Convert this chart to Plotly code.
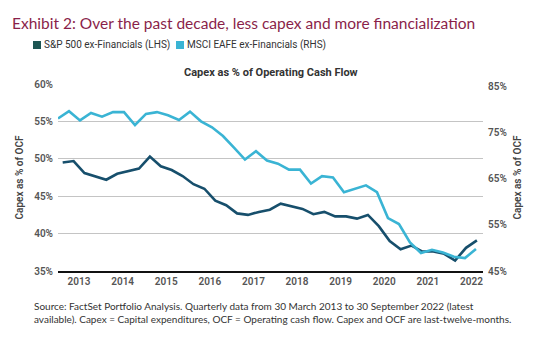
import plotly.graph_objects as go

# Quarterly capex as % of operating cash flow, Q1 2013 .. Q3 2022
quarters = list(range(39))
sp500_ex_fin = [49.5, 49.7, 48.1, 47.6, 47.2, 48.0, 48.3, 48.7, 50.3, 49.0,
                48.5, 47.7, 46.6, 46.0, 44.4, 43.8, 42.7, 42.5, 42.9, 43.2,
                44.0, 43.7, 43.3, 42.6, 42.9, 42.3, 42.3, 42.0, 42.5, 41.0,
                39.0, 37.9, 38.4, 37.6, 37.6, 37.3, 36.4, 38.1, 39.1]
eafe_ex_fin = [78.1, 79.7, 77.7, 79.3, 78.5, 79.5, 79.5, 76.7, 79.1, 79.5,
               78.8, 77.8, 79.6, 77.5, 76.2, 74.3, 71.8, 69.2, 71.0, 69.0,
               68.3, 67.0, 67.0, 64.0, 65.6, 65.3, 62.1, 62.9, 63.6, 62.1,
               56.5, 55.2, 51.2, 48.9, 49.6, 49.0, 48.1, 47.8, 49.8]
years = ["2013", "2014", "2015", "2016", "2017", "2018", "2019", "2020", "2021", "2022"]
left_ticks = [35, 40, 45, 50, 55, 60]
right_ticks = [45, 55, 65, 75, 85]

DARK = "#174f6c"
LIGHT = "#3ab4d4"
TICK_FONT = dict(family="Roboto", size=10, color="#555555", weight=600)

fig = go.Figure()
fig.add_trace(go.Scatter(x=quarters, y=sp500_ex_fin, mode="lines",
                         line=dict(color=DARK, width=2.6),
                         name="S&P 500 ex-Financials (LHS)",
                         xaxis="x", yaxis="y"))
fig.add_trace(go.Scatter(x=quarters, y=eafe_ex_fin, mode="lines",
                         line=dict(color=LIGHT, width=2.6),
                         name="MSCI EAFE ex-Financials (RHS)",
                         xaxis="x2", yaxis="y2"))

# year labels centred on each year's four quarters
tickvals = [4 * i + 1.5 for i in range(len(years))]

fig.update_layout(
    width=537, height=337,
    margin=dict(l=58, r=54, t=84, b=66),
    paper_bgcolor="white", plot_bgcolor="white",
    showlegend=False,
    xaxis=dict(range=[-0.43, 38.56], tickvals=tickvals, ticktext=years,
               showgrid=False, zeroline=False, showline=True,
               linecolor="#111111", linewidth=2, ticks="",
               tickfont=TICK_FONT),
    xaxis2=dict(range=[0, 38.64], overlaying="x", visible=False),
    yaxis=dict(range=[35, 60], tickvals=left_ticks,
               ticktext=[f"{v}%" for v in left_ticks],
               showgrid=True, gridcolor="#c4c4c4", gridwidth=1,
               zeroline=False, showline=False, ticks="",
               tickfont=TICK_FONT, ticklabelstandoff=4,
               title=dict(text="Capex as % of OCF",
                          font=dict(family="Roboto", size=10, color="#444444", weight=600),
                          standoff=8)),
    yaxis2=dict(range=[45, 85.6], overlaying="y", side="right",
                tickvals=right_ticks, ticktext=[f"{v}%" for v in right_ticks],
                showgrid=False, zeroline=False, showline=False, ticks="",
                tickfont=TICK_FONT, ticklabelstandoff=4,
                title=dict(text="Capex as % of OCF",
                           font=dict(family="Roboto", size=10, color="#444444", weight=600),
                           standoff=8)),
)

# headline, legend and footnote
fig.add_annotation(text="Exhibit 2: Over the past decade, less capex and more financialization",
                   xref="paper", yref="paper", x=(10 - 58) / 425, y=1 + (84 - 23) / 187,
                   xanchor="left", yanchor="middle", showarrow=False,
                   font=dict(family="Lato", size=15.5, color="#8a1f4a"))

legend_items = [("S&P 500 ex-Financials (LHS)", "#1d5653", 33),
                ("MSCI EAFE ex-Financials (RHS)", "#3ab4d4", 176)]
for label, color, px in legend_items:
    fig.add_shape(type="rect", xref="paper", yref="paper",
                  x0=(px - 58) / 425, x1=(px + 8 - 58) / 425,
                  y0=1 + (84 - 49) / 187, y1=1 + (84 - 41) / 187,
                  fillcolor=color, line=dict(width=0))
    fig.add_annotation(text=label, xref="paper", yref="paper",
                       x=(px + 9 - 58) / 425, y=1 + (84 - 45) / 187,
                       xanchor="left", yanchor="middle", showarrow=False,
                       font=dict(family="Roboto", size=10, color="#333333"))

fig.add_annotation(text="<b>Capex as % of Operating Cash Flow</b>",
                   xref="paper", yref="paper", x=(271 - 58) / 425, y=1 + (84 - 72) / 187,
                   xanchor="center", yanchor="middle", showarrow=False,
                   font=dict(family="Roboto", size=11, color="#333333"))

fig.add_annotation(text="Source: FactSet Portfolio Analysis. Quarterly data from 30 March 2013 to 30 September 2022 (latest<br>"
                        "available). Capex = Capital expenditures, OCF = Operating cash flow. Capex and OCF are last-twelve-months.",
                   xref="paper", yref="paper", x=(32 - 58) / 425, y=-(312 - 271) / 187,
                   xanchor="left", yanchor="middle", align="left", showarrow=False,
                   font=dict(family="Lato", size=10, color="#333333"))

fig.write_html("out.html")
